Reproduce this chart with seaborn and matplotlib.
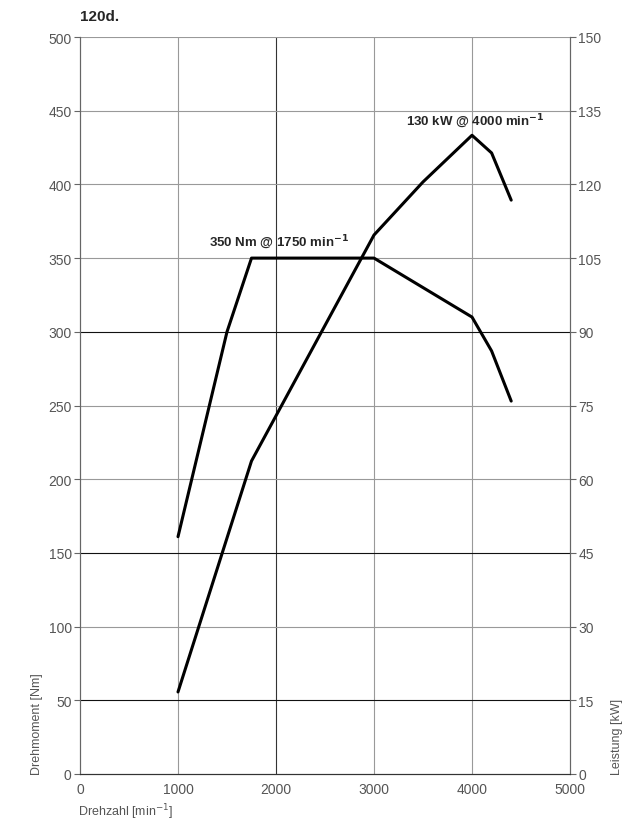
import numpy as np
import pandas as pd
import matplotlib
matplotlib.use("Agg")
import matplotlib.pyplot as plt
import seaborn as sns

# Volllastkurven 120d
torque_rpm = [1000, 1500, 1750, 3000, 4000, 4200, 4400]
torque_nm = [161, 300, 350, 350, 310, 287, 253]

power_rpm = [1000, 1750, 3000, 3500, 4000, 4200, 4400]
power_kw = [16.7, 63.7, 109.7, 120.5, 130, 126.4, 116.8]

x_ticks = [0, 1000, 2000, 3000, 4000, 5000]
nm_ticks = list(range(0, 501, 50))
kw_ticks = list(range(0, 151, 15))

sns.set_style("white")
plt.rcParams['font.family'] = ['Liberation Sans', 'DejaVu Sans']

torque_df = pd.DataFrame({"rpm": torque_rpm, "nm": torque_nm})
power_df = pd.DataFrame({"rpm": power_rpm, "kw": power_kw})

fig = plt.figure(figsize=(6.41, 8.37), dpi=100)
ax = fig.add_axes([80 / 641, 62 / 837, 490 / 641, 737 / 837])
ax2 = ax.twinx()

grey = "#666666"
label_col = "#555555"

# Gitter: 50/150/300 Nm und 2000 min-1 dunkler
for xv in x_ticks[1:-1]:
    ax.axvline(xv, color="#333333" if xv == 2000 else "#999999", lw=0.8, zorder=1)
for yv in nm_ticks[1:]:
    ax.axhline(yv, color="#111111" if yv in (50, 150, 300) else "#999999", lw=0.8, zorder=1)

sns.lineplot(data=torque_df, x="rpm", y="nm", ax=ax, color="black", lw=2.2, zorder=3)
sns.lineplot(data=power_df, x="rpm", y="kw", ax=ax2, color="black", lw=2.2, zorder=3)

ax.set_xlim(0, 5000)
ax.set_ylim(0, 500)
ax2.set_ylim(0, 150)
ax.set_xticks(x_ticks)
ax.set_yticks(nm_ticks)
ax2.set_yticks(kw_ticks)

for a in (ax, ax2):
    a.spines["top"].set_visible(False)
    a.spines["left"].set_color(grey)
    a.spines["right"].set_color(grey)
    a.spines["bottom"].set_color("#333333")
    for s in a.spines.values():
        s.set_linewidth(0.8)
    a.tick_params(length=4, width=0.8, color=grey, labelcolor=label_col, labelsize=10)
ax.tick_params(axis="x", direction="in", pad=6)
ax.tick_params(axis="y", direction="out", pad=2)
ax2.tick_params(axis="y", direction="out", pad=2)

ax.set_xlabel("")
ax.set_ylabel("")
ax2.set_ylabel("")

fig.text(31 / 641, 62 / 837, "Drehmoment [Nm]", rotation=90, ha="left", va="bottom",
         fontsize=9, color=label_col)
fig.text(611 / 641, 62 / 837, "Leistung [kW]", rotation=90, ha="left", va="bottom",
         fontsize=9, color=label_col)
fig.text(78 / 641, 1 - 812 / 837, "Drehzahl [min$^{-1}$]", ha="left", va="center",
         fontsize=9, color=label_col)
fig.text(80 / 641, 1 - 17 / 837, "120d.", ha="left", va="center",
         fontsize=11, fontweight="bold")

ax.text(2030, 355, "350 Nm @ 1750 min$^{\\mathbf{-1}}$", ha="center", va="bottom",
        fontsize=9.5, fontweight="bold")
ax2.text(4030, 131, "130 kW @ 4000 min$^{\\mathbf{-1}}$", ha="center", va="bottom",
         fontsize=9.5, fontweight="bold")

fig.savefig("out.png", dpi=100)
